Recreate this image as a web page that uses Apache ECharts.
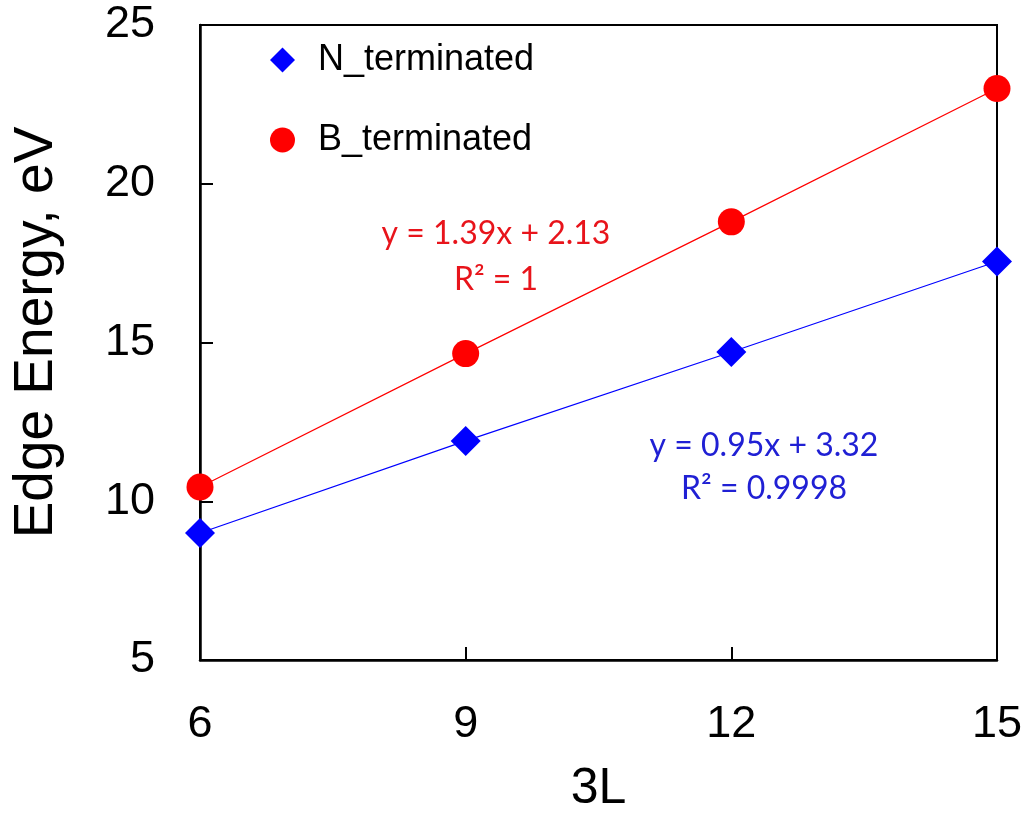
<!DOCTYPE html>
<html>
<head>
<meta charset="utf-8">
<script src="https://cdn.jsdelivr.net/npm/echarts@6/dist/echarts.min.js"></script>
<style>
  html, body { margin: 0; padding: 0; background: #fff; }
  #chart { width: 1029px; height: 822px; }
</style>
</head>
<body>
<div id="chart"></div>
<script>
// data
const xValues = [6, 9, 12, 15]
const nTerminated = [9.0, 11.9, 14.7, 17.55]
const bTerminated = [10.45, 14.65, 18.8, 23.0]
const xTicks = [6, 9, 12, 15]
const yTicks = [5, 10, 15, 20, 25]
const nFitText = ['y = 0.95x + 3.32', 'R² = 0.9998']
const bFitText = ['y = 1.39x + 2.13', 'R² = 1']

const chart = echarts.init(document.getElementById('chart'))

const pairs = (ys) => xValues.map((x, i) => [x, ys[i]])

chart.setOption({
  backgroundColor: '#fff',
  animation: false,
  grid: {
    left: 200,
    top: 25,
    right: 32,
    bottom: 162,
    containLabel: false,
    outerBoundsMode: 'none',
    show: true,
    borderColor: '#000',
    borderWidth: 2
  },
  legend: {
    orient: 'vertical',
    left: 265,
    top: 37,
    padding: 5,
    itemWidth: 25,
    itemHeight: 25,
    itemGap: 44,
    textStyle: {
      fontFamily: 'Liberation Sans',
      fontSize: 36,
      color: '#000',
      padding: [0, 0, 0, 18]
    },
    data: [
      { name: 'N_terminated', icon: 'diamond' },
      { name: 'B_terminated', icon: 'circle' }
    ]
  },
  xAxis: {
    type: 'value',
    min: xTicks[0],
    max: xTicks[xTicks.length - 1],
    interval: 3,
    name: '3L',
    nameLocation: 'middle',
    nameGap: 104,
    nameTextStyle: { fontFamily: 'Liberation Sans', fontSize: 50, color: '#000' },
    axisLine: { lineStyle: { color: '#000', width: 2.5 } },
    axisTick: { inside: true, length: 13, lineStyle: { color: '#000', width: 2 } },
    axisLabel: { margin: 42, fontFamily: 'Liberation Sans', fontSize: 45, color: '#000' },
    splitLine: { show: false }
  },
  yAxis: {
    type: 'value',
    min: yTicks[0],
    max: yTicks[yTicks.length - 1],
    interval: 5,
    name: 'Edge Energy, eV',
    nameLocation: 'middle',
    nameGap: 136,
    nameTextStyle: {
      fontFamily: 'Liberation Sans',
      fontSize: 55,
      color: '#000',
      padding: [0, 0, 0, 20]
    },
    axisLine: { lineStyle: { color: '#000', width: 2.5 } },
    axisTick: { inside: true, length: 13, lineStyle: { color: '#000', width: 2 } },
    axisLabel: { margin: 45, fontFamily: 'Liberation Sans', fontSize: 45, color: '#000' },
    splitLine: { show: false }
  },
  series: [
    {
      name: 'N_terminated',
      type: 'line',
      data: pairs(nTerminated),
      symbol: 'diamond',
      symbolSize: 30,
      itemStyle: { color: '#0000ff' },
      lineStyle: { color: '#0000ff', width: 1.2 },
      z: 3
    },
    {
      name: 'B_terminated',
      type: 'line',
      data: pairs(bTerminated),
      symbol: 'circle',
      symbolSize: 27,
      itemStyle: { color: '#ff0000' },
      lineStyle: { color: '#ff0000', width: 1.2 },
      z: 3
    }
  ],
  graphic: [
    {
      type: 'text',
      style: {
        x: 496,
        y: 257,
        text: bFitText.join('\n'),
        align: 'center',
        verticalAlign: 'middle',
        lineHeight: 46,
        fontFamily: 'Lato',
        fontSize: 32,
        fill: '#e8141b'
      }
    },
    {
      type: 'text',
      style: {
        x: 764,
        y: 467,
        text: nFitText.join('\n'),
        align: 'center',
        verticalAlign: 'middle',
        lineHeight: 43,
        fontFamily: 'Lato',
        fontSize: 32,
        fill: '#2020d4'
      }
    }
  ]
})
</script>
</body>
</html>
